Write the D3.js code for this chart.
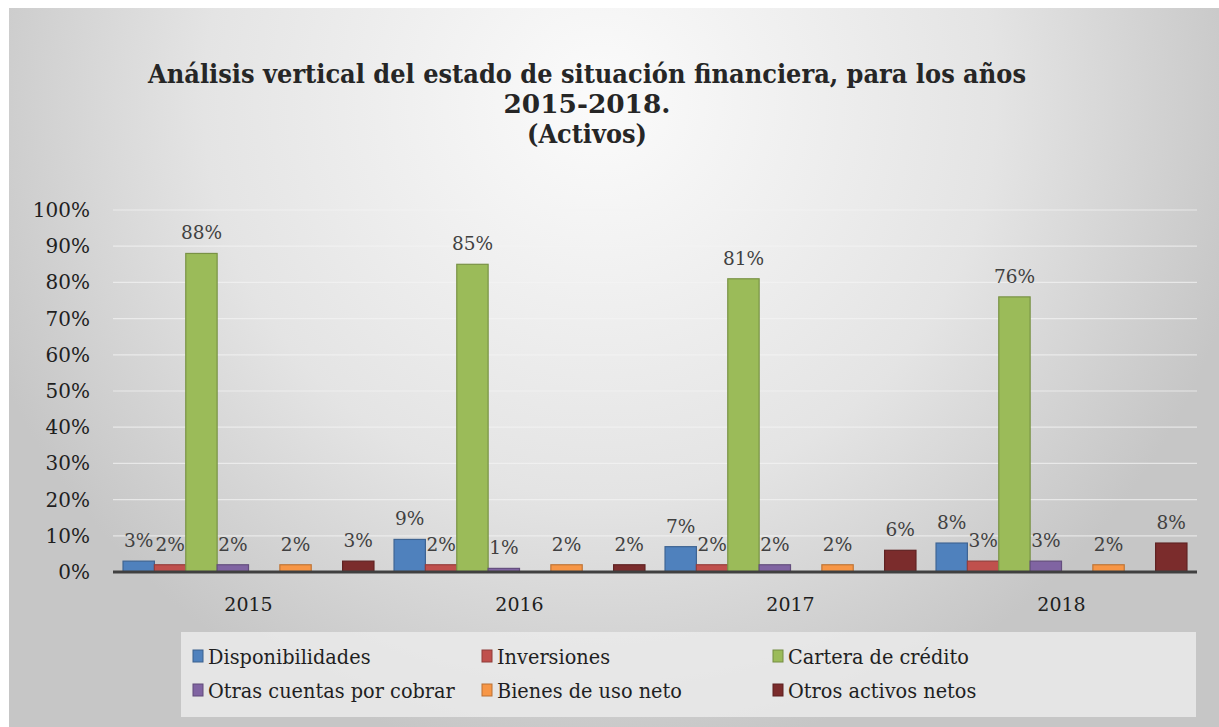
<!DOCTYPE html>
<html>
<head>
<meta charset="utf-8">
<script src="https://cdn.jsdelivr.net/npm/d3@7"></script>
<style>
  body { margin: 0; background: #fff; }
</style>
</head>
<body>
<div id="chart"></div>
<script>
// data
var years = ["2015", "2016", "2017", "2018"];
var seriesNames = ["Disponibilidades", "Inversiones", "Cartera de crédito",
                   "Otras cuentas por cobrar", "Bienes de uso neto", "Otros activos netos"];
var seriesColors = ["#4f81bd", "#c0504d", "#9bbb59", "#8064a2", "#f79646", "#7b2c2c"];
var disponibilidades = [3, 9, 7, 8];
var inversiones = [2, 2, 2, 3];
var cartera = [88, 85, 81, 76];
var otrasCuentas = [2, 1, 2, 3];
var bienesUso = [2, 2, 2, 2];
var otrosActivos = [3, 2, 6, 8];
var yTicks = [0, 10, 20, 30, 40, 50, 60, 70, 80, 90, 100];
// the original sheet had two empty rows between series, they keep a slot each
var slots = ["Disponibilidades", "Inversiones", "Cartera de crédito",
             "Otras cuentas por cobrar", "vacio1", "Bienes de uso neto", "vacio2", "Otros activos netos"];
var titleLines = ["Análisis vertical del estado de situación financiera, para los años",
                  "2015-2018.", "(Activos)"];

var allValues = [disponibilidades, inversiones, cartera, otrasCuentas, bienesUso, otrosActivos];

var W = 1219, H = 727;
var margin = {top: 210, right: 22, bottom: 155, left: 113};
var serif = "DejaVu Serif, serif";

var svg = d3.select("#chart").append("svg")
    .attr("width", W)
    .attr("height", H)
    .style("font-family", serif);

var defs = svg.append("defs");
var grad = defs.append("radialGradient")
    .attr("id", "bg")
    .attr("gradientUnits", "userSpaceOnUse")
    .attr("cx", 600).attr("cy", 100).attr("r", 660);
grad.append("stop").attr("offset", "0").attr("stop-color", "#fbfbfb");
grad.append("stop").attr("offset", "0.6").attr("stop-color", "#e4e4e4");
grad.append("stop").attr("offset", "1").attr("stop-color", "#c6c6c6");

svg.append("rect")
    .attr("x", 9).attr("y", 8)
    .attr("width", W - 9).attr("height", H - 8)
    .attr("fill", "url(#bg)");

var x0 = d3.scaleBand()
    .domain(years)
    .range([margin.left, W - margin.right]);

var x1 = d3.scaleBand()
    .domain(slots)
    .range([0, x0.bandwidth()])
    .paddingOuter(0.32);

var y = d3.scaleLinear()
    .domain([0, 100])
    .range([H - margin.bottom, margin.top]);

// grid
svg.append("g").selectAll("line")
    .data(yTicks.slice(1))
    .enter().append("line")
    .attr("x1", margin.left).attr("x2", W - margin.right)
    .attr("y1", function(d) { return y(d); })
    .attr("y2", function(d) { return y(d); })
    .attr("stroke", "#f4f4f4")
    .attr("stroke-opacity", 0.7)
    .attr("stroke-width", 1.2);

// y tick labels
svg.append("g").selectAll("text")
    .data(yTicks)
    .enter().append("text")
    .attr("x", 90)
    .attr("y", function(d) { return y(d) + 7; })
    .attr("text-anchor", "end")
    .attr("font-size", 20)
    .attr("fill", "#1f1f1f")
    .text(function(d) { return d + "%"; });

// bars
var group = svg.append("g").selectAll("g")
    .data(years)
    .enter().append("g")
    .attr("transform", function(d) { return "translate(" + x0(d) + ",0)"; });

var barData = function(yr, yi) {
    return seriesNames.map(function(name, si) {
        return {name: name, value: allValues[si][yi], color: seriesColors[si]};
    });
};

group.selectAll("rect")
    .data(barData)
    .enter().append("rect")
    .attr("x", function(d) { return x1(d.name); })
    .attr("y", function(d) { return y(d.value); })
    .attr("width", x1.bandwidth())
    .attr("height", function(d) { return y(0) - y(d.value); })
    .attr("fill", function(d) { return d.color; })
    .attr("stroke", function(d) { return d3.color(d.color).darker(0.7); })
    .attr("stroke-width", 1.2);

group.selectAll("text")
    .data(barData)
    .enter().append("text")
    .attr("x", function(d) { return x1(d.name) + x1.bandwidth() / 2; })
    .attr("y", function(d) { return y(d.value) - 14; })
    .attr("text-anchor", "middle")
    .attr("font-size", 18.5)
    .attr("fill", "#404040")
    .text(function(d) { return d.value + "%"; });

// axis line
svg.append("line")
    .attr("x1", margin.left).attr("x2", W - margin.right)
    .attr("y1", y(0)).attr("y2", y(0))
    .attr("stroke", "#404040")
    .attr("stroke-width", 3);

// year labels
svg.append("g").selectAll("text")
    .data(years)
    .enter().append("text")
    .attr("x", function(d) { return x0(d) + x0.bandwidth() / 2; })
    .attr("y", y(0) + 39)
    .attr("text-anchor", "middle")
    .attr("font-size", 19)
    .attr("fill", "#1f1f1f")
    .text(function(d) { return d; });

// title
var titleWidths = [878, 167, 120];
svg.append("g").selectAll("text")
    .data(titleLines)
    .enter().append("text")
    .attr("x", 587)
    .attr("y", function(d, i) { return 83 + i * 30; })
    .attr("text-anchor", "middle")
    .attr("font-size", 26)
    .attr("font-weight", "bold")
    .attr("fill", "#262626")
    .attr("textLength", function(d, i) { return titleWidths[i]; })
    .attr("lengthAdjust", "spacingAndGlyphs")
    .text(function(d) { return d; });

// legend
var legend = svg.append("g");
legend.append("rect")
    .attr("x", 181).attr("y", 632)
    .attr("width", 1015).attr("height", 85)
    .attr("fill", "#ececec")
    .attr("fill-opacity", 0.8);

var colX = [193, 482, 773];
var item = legend.selectAll(".item")
    .data(seriesNames)
    .enter().append("g")
    .attr("class", "item")
    .attr("transform", function(d, i) {
        return "translate(" + colX[i % 3] + "," + (656 + Math.floor(i / 3) * 34) + ")";
    });

item.append("rect")
    .attr("x", 0).attr("y", -6)
    .attr("width", 10).attr("height", 12)
    .attr("fill", function(d, i) { return seriesColors[i]; })
    .attr("stroke", function(d, i) { return d3.color(seriesColors[i]).darker(0.8); })
    .attr("stroke-width", 1);

item.append("text")
    .attr("transform", "translate(15,8) scale(0.92,1)")
    .attr("font-size", 21)
    .attr("fill", "#1f1f1f")
    .text(function(d) { return d; });
</script>
</body>
</html>
